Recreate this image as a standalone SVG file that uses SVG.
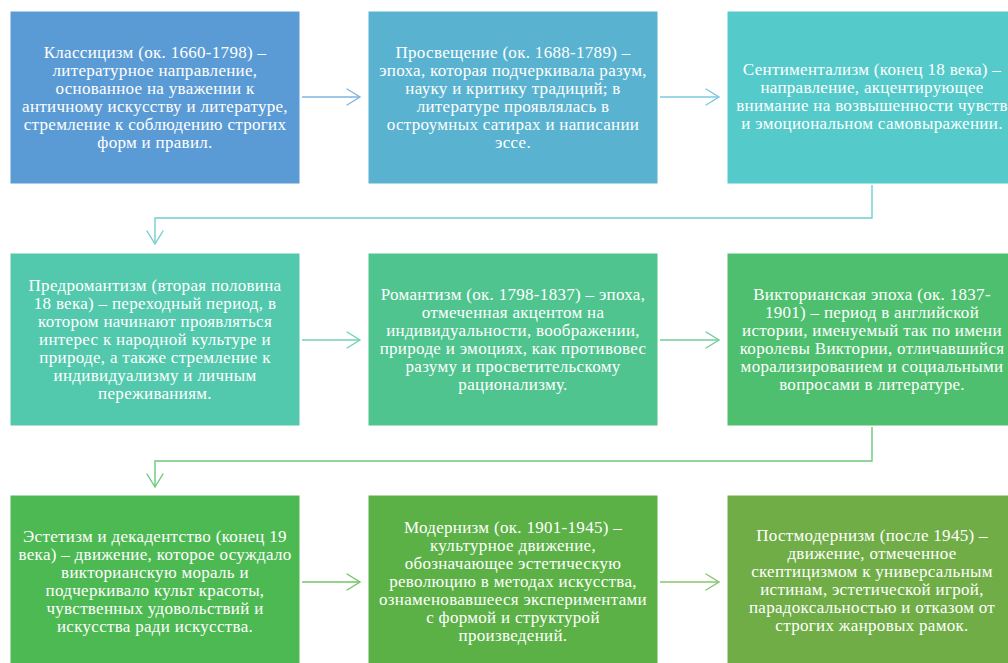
<svg xmlns="http://www.w3.org/2000/svg" width="1008" height="663" viewBox="0 0 1008 663">
<style>
.box{stroke:#ffffff;stroke-width:1}
.t{font-family:"Liberation Serif","Times New Roman","DejaVu Serif",serif;font-size:17px;letter-spacing:0.3px;fill:#ffffff;text-anchor:middle}
.c{fill:none;stroke-width:1.4}
.ah{fill:none;stroke-width:1.4;stroke-linecap:round;stroke-linejoin:miter}
</style>
<defs>
<marker id="m1" markerUnits="userSpaceOnUse" markerWidth="20" markerHeight="20" refX="14" refY="9" orient="auto" viewBox="0 0 20 20"><path class="ah" d="M1,1 L14,9 L1,17" stroke="#80B5E0"/></marker>
<marker id="m2" markerUnits="userSpaceOnUse" markerWidth="20" markerHeight="20" refX="14" refY="9" orient="auto" viewBox="0 0 20 20"><path class="ah" d="M1,1 L14,9 L1,17" stroke="#7CC8DE"/></marker>
<marker id="m3" markerUnits="userSpaceOnUse" markerWidth="20" markerHeight="20" refX="14" refY="9" orient="auto" viewBox="0 0 20 20"><path class="ah" d="M1,1 L14,9 L1,17" stroke="#6FD0CC"/></marker>
<marker id="m4" markerUnits="userSpaceOnUse" markerWidth="20" markerHeight="20" refX="14" refY="9" orient="auto" viewBox="0 0 20 20"><path class="ah" d="M1,1 L14,9 L1,17" stroke="#72D2B8"/></marker>
<marker id="m5" markerUnits="userSpaceOnUse" markerWidth="20" markerHeight="20" refX="14" refY="9" orient="auto" viewBox="0 0 20 20"><path class="ah" d="M1,1 L14,9 L1,17" stroke="#70CE9C"/></marker>
<marker id="m6" markerUnits="userSpaceOnUse" markerWidth="20" markerHeight="20" refX="14" refY="9" orient="auto" viewBox="0 0 20 20"><path class="ah" d="M1,1 L14,9 L1,17" stroke="#6CC97C"/></marker>
<marker id="m7" markerUnits="userSpaceOnUse" markerWidth="20" markerHeight="20" refX="14" refY="9" orient="auto" viewBox="0 0 20 20"><path class="ah" d="M1,1 L14,9 L1,17" stroke="#74C46A"/></marker>
<marker id="m8" markerUnits="userSpaceOnUse" markerWidth="20" markerHeight="20" refX="14" refY="9" orient="auto" viewBox="0 0 20 20"><path class="ah" d="M1,1 L14,9 L1,17" stroke="#88C46C"/></marker>
</defs>
<rect width="1008" height="663" fill="#ffffff"/>
<g id="connectors">
<path class="c" d="M302,97 H360" stroke="#80B5E0" marker-end="url(#m1)"/>
<path class="c" d="M660,97 H719" stroke="#7CC8DE" marker-end="url(#m2)"/>
<path class="c" d="M872,185 V218 H155 V244" stroke="#6FD0CC" marker-end="url(#m3)"/>
<path class="c" d="M302,340 H360" stroke="#72D2B8" marker-end="url(#m4)"/>
<path class="c" d="M660,340 H719" stroke="#70CE9C" marker-end="url(#m5)"/>
<path class="c" d="M872,427 V461 H155 V487" stroke="#6CC97C" marker-end="url(#m6)"/>
<path class="c" d="M302,582 H360" stroke="#74C46A" marker-end="url(#m7)"/>
<path class="c" d="M660,582 H719" stroke="#88C46C" marker-end="url(#m8)"/>
</g>
<g id="n1"><rect class="box" x="10" y="11" width="290" height="173" fill="#5B9BD5"/>
<text class="t" y="58"><tspan x="155">Классицизм (ок. 1660-1798) –</tspan><tspan x="155" dy="18">литературное направление,</tspan><tspan x="155" dy="18">основанное на уважении к</tspan><tspan x="155" dy="18">античному искусству и литературе,</tspan><tspan x="155" dy="18">стремление к соблюдению строгих</tspan><tspan x="155" dy="18">форм и правил.</tspan></text></g>
<g id="n2"><rect class="box" x="368" y="11" width="290" height="173" fill="#58B2D0"/>
<text class="t" y="58"><tspan x="513">Просвещение (ок. 1688-1789) –</tspan><tspan x="513" dy="18">эпоха, которая подчеркивала разум,</tspan><tspan x="513" dy="18">науку и критику традиций; в</tspan><tspan x="513" dy="18">литературе проявлялась в</tspan><tspan x="513" dy="18">остроумных сатирах и написании</tspan><tspan x="513" dy="18">эссе.</tspan></text></g>
<g id="n3"><rect class="box" x="727" y="11" width="290" height="173" fill="#55CACA"/>
<text class="t" y="75"><tspan x="872">Сентиментализм (конец 18 века) –</tspan><tspan x="872" dy="18">направление, акцентирующее</tspan><tspan x="872" dy="18">внимание на возвышенности чувств</tspan><tspan x="872" dy="18">и эмоциональном самовыражении.</tspan></text></g>
<g id="n4"><rect class="box" x="10" y="253" width="290" height="173" fill="#52C8AC"/>
<text class="t" y="291"><tspan x="155">Предромантизм (вторая половина</tspan><tspan x="155" dy="18">18 века) – переходный период, в</tspan><tspan x="155" dy="18">котором начинают проявляться</tspan><tspan x="155" dy="18">интерес к народной культуре и</tspan><tspan x="155" dy="18">природе, а также стремление к</tspan><tspan x="155" dy="18">индивидуализму и личным</tspan><tspan x="155" dy="18">переживаниям.</tspan></text></g>
<g id="n5"><rect class="box" x="368" y="253" width="290" height="173" fill="#4FC48E"/>
<text class="t" y="300"><tspan x="513">Романтизм (ок. 1798-1837) – эпоха,</tspan><tspan x="513" dy="18">отмеченная акцентом на</tspan><tspan x="513" dy="18">индивидуальности, воображении,</tspan><tspan x="513" dy="18">природе и эмоциях, как противовес</tspan><tspan x="513" dy="18">разуму и просветительскому</tspan><tspan x="513" dy="18">рационализму.</tspan></text></g>
<g id="n6"><rect class="box" x="727" y="253" width="290" height="173" fill="#4DBF6E"/>
<text class="t" y="300"><tspan x="872">Викторианская эпоха (ок. 1837-</tspan><tspan x="872" dy="18">1901) – период в английской</tspan><tspan x="872" dy="18">истории, именуемый так по имени</tspan><tspan x="872" dy="18">королевы Виктории, отличавшийся</tspan><tspan x="872" dy="18">морализированием и социальными</tspan><tspan x="872" dy="18">вопросами в литературе.</tspan></text></g>
<g id="n7"><rect class="box" x="10" y="495" width="290" height="173" fill="#4DB952"/>
<text class="t" y="542"><tspan x="155">Эстетизм и декадентство (конец 19</tspan><tspan x="155" dy="18">века) – движение, которое осуждало</tspan><tspan x="155" dy="18">викторианскую мораль и</tspan><tspan x="155" dy="18">подчеркивало культ красоты,</tspan><tspan x="155" dy="18">чувственных удовольствий и</tspan><tspan x="155" dy="18">искусства ради искусства.</tspan></text></g>
<g id="n8"><rect class="box" x="368" y="495" width="290" height="173" fill="#5BB145"/>
<text class="t" y="533"><tspan x="513">Модернизм (ок. 1901-1945) –</tspan><tspan x="513" dy="18">культурное движение,</tspan><tspan x="513" dy="18">обозначающее эстетическую</tspan><tspan x="513" dy="18">революцию в методах искусства,</tspan><tspan x="513" dy="18">ознаменовавшееся экспериментами</tspan><tspan x="513" dy="18">с формой и структурой</tspan><tspan x="513" dy="18">произведений.</tspan></text></g>
<g id="n9"><rect class="box" x="727" y="495" width="290" height="173" fill="#70AD47"/>
<text class="t" y="541"><tspan x="872">Постмодернизм (после 1945) –</tspan><tspan x="872" dy="18">движение, отмеченное</tspan><tspan x="872" dy="18">скептицизмом к универсальным</tspan><tspan x="872" dy="18">истинам, эстетической игрой,</tspan><tspan x="872" dy="18">парадоксальностью и отказом от</tspan><tspan x="872" dy="18">строгих жанровых рамок.</tspan></text></g>
</svg>
